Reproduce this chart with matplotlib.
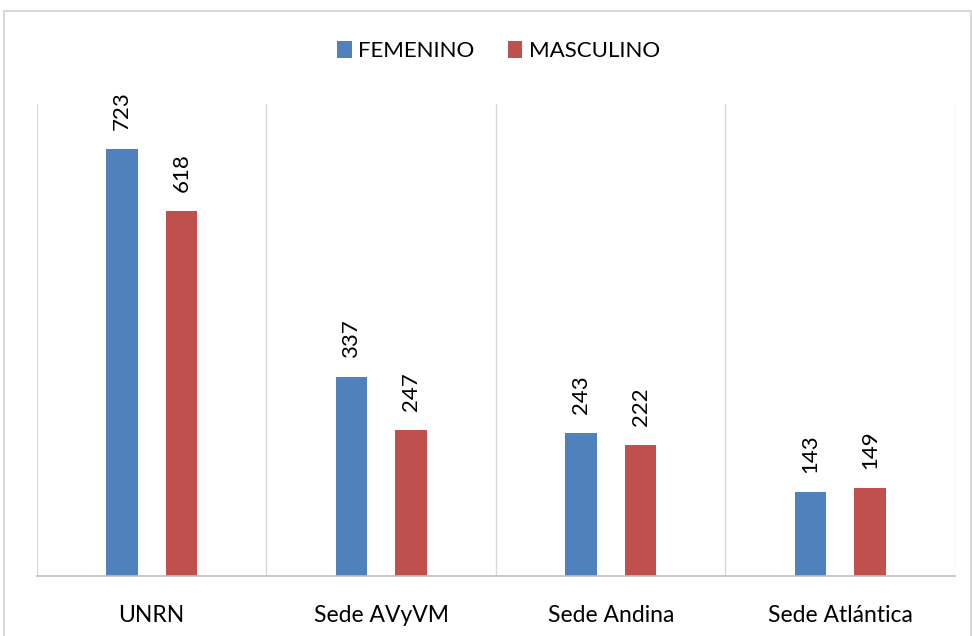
import numpy as np
import matplotlib.pyplot as plt
from matplotlib.patches import Rectangle

plt.rcParams['font.family'] = ['Lato', 'DejaVu Sans']

categorias = ["UNRN", "Sede AVyVM", "Sede Andina", "Sede Atlántica"]
femenino   = [723, 337, 243, 143]
masculino  = [618, 247, 222, 149]

azul = "#4F81BD"
rojo = "#C0504D"

fig = plt.figure(figsize=(9.72, 6.36), dpi=100)
ax = fig.add_axes([0.038, 0.0943, 0.9445, 0.7422])

x = np.arange(len(categorias))
w = 0.137
off = 0.13
b1 = ax.bar(x - off, femenino, w, color=azul, label="FEMENINO")
b2 = ax.bar(x + off, masculino, w, color=rojo, label="MASCULINO")

for bars in (b1, b2):
    for r in bars:
        ax.annotate(f"{int(r.get_height())}", (r.get_x() + r.get_width()/2, r.get_height()),
                    xytext=(0, 19), textcoords="offset pixels", rotation=90,
                    ha="center", va="bottom", fontsize=16)

ax.set_xlim(-0.5, len(categorias) - 0.5)
ax.set_ylim(0, 800)
ax.set_yticks([])
ax.set_xticks(x)
ax.set_xticklabels(categorias, fontsize=16.5)
ax.tick_params(axis="x", length=0, pad=21)

for s in ("top", "right", "left"):
    ax.spines[s].set_visible(False)
ax.spines["bottom"].set_color("#BFBFBF")
ax.spines["bottom"].set_linewidth(1.2)

for xs in np.arange(-0.5, len(categorias), 1.0):
    ax.axvline(xs, color="#D9D9D9", lw=1, zorder=0)

fig.legend(loc="center", bbox_to_anchor=(0.513, 0.92), ncol=2, frameon=False,
           fontsize=16, handlelength=0.65, handleheight=0.85, handletextpad=0.3,
           columnspacing=1.5)

fig.patches.append(Rectangle((0.004, -0.01), 0.995, 0.993, transform=fig.transFigure,
                             fill=False, edgecolor="#D9D9D9", lw=1.5))

fig.savefig("out.png", dpi=100)
